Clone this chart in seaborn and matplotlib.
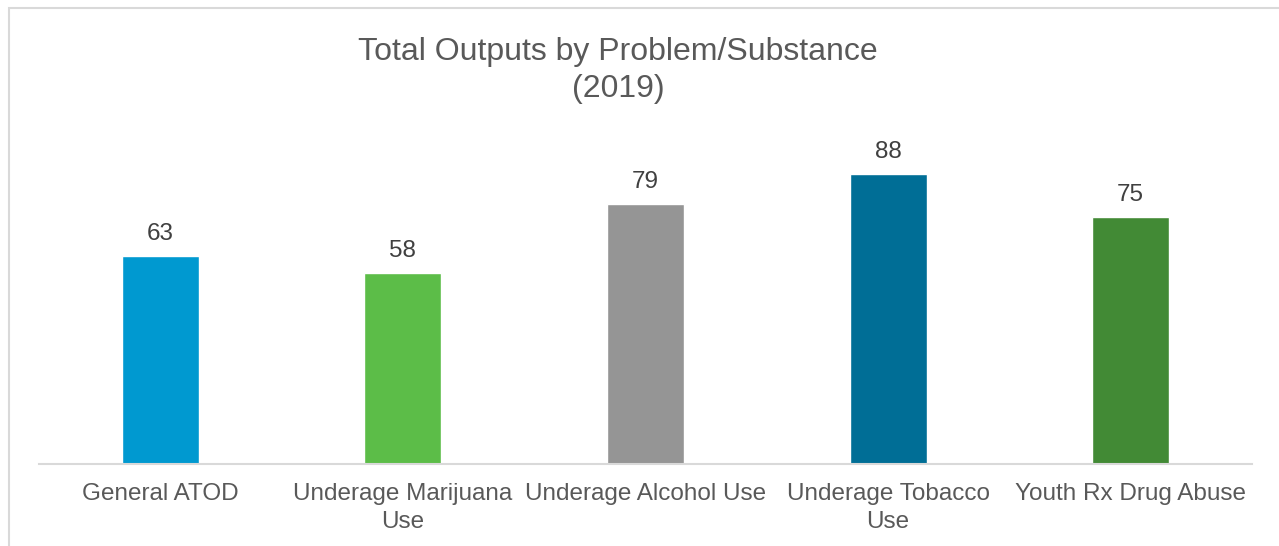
import matplotlib
matplotlib.use("Agg")
import matplotlib.pyplot as plt
import seaborn as sns
import pandas as pd
from matplotlib.patches import Rectangle

categories = ["General ATOD", "Underage Marijuana\nUse", "Underage Alcohol Use",
              "Underage Tobacco\nUse", "Youth Rx Drug Abuse"]
values = [63, 58, 79, 88, 75]
colors = ["#0099D0", "#5CBD48", "#959595", "#006E96", "#428A35"]

df = pd.DataFrame({"cat": categories, "val": values})

sns.set_theme(style="white")
plt.rcParams['font.family'] = ['Liberation Sans', 'DejaVu Sans']

W, H = 1279, 546
fig = plt.figure(figsize=(W / 100, H / 100), dpi=100)
ax = fig.add_axes([39 / W, 82 / H, (1252 - 39) / W, (464 - 100) / H])

sns.barplot(data=df, x="cat", y="val", hue="cat", palette=colors, width=0.317,
            legend=False, ax=ax, saturation=1)

ax.set_ylim(0, (464 - 100) / (290 / 88))
ax.set_xlim(-0.5, len(categories) - 0.5)
for s in ["top", "right", "left"]:
    ax.spines[s].set_visible(False)
ax.spines["bottom"].set_color("#D9D9D9")
ax.spines["bottom"].set_linewidth(1.5)
ax.set_yticks([])
ax.set_xlabel("")
ax.set_ylabel("")
ax.tick_params(axis="x", length=0, pad=14, labelsize=17.5, labelcolor="#595959")
for lbl in ax.get_xticklabels():
    lbl.set_linespacing(1.32)

for i, v in enumerate(values):
    ax.annotate(str(v), (i, v), xytext=(0, 8), textcoords="offset points",
                ha="center", va="bottom", fontsize=17.5, color="#404040")

fig.text(618 / W, 1 - 70.5 / H, "Total Outputs by Problem/Substance\n(2019)",
         ha="center", va="center", fontsize=23, color="#595959", linespacing=1.3)

fig.patches.append(Rectangle((9 / W, -0.1), 1.2, 1 - 8 / H + 0.1,
                             transform=fig.transFigure, fill=False,
                             edgecolor="#D9D9D9", linewidth=1.5))

fig.savefig("out.png", dpi=100)
